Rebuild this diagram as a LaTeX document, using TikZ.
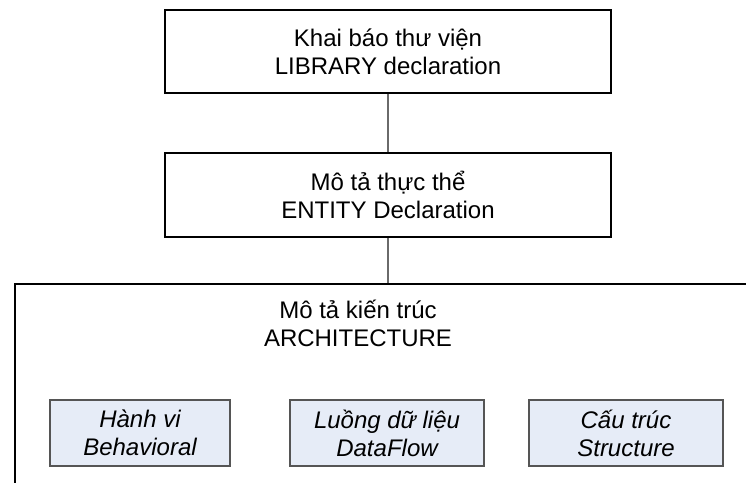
\documentclass[tikz,border=0pt]{standalone}
\usepackage{fontspec}
\setmainfont{Liberation Sans}
\definecolor{boxfill}{HTML}{E6ECF7}
\definecolor{boxline}{HTML}{555555}
\definecolor{linkline}{HTML}{6A6A6A}
\begin{document}
\begin{tikzpicture}[x=1pt,y=-1pt,
  every node/.style={font=\fontsize{24}{28}\selectfont, align=center, inner sep=0pt},
  mainbox/.style={draw=black, line width=2pt, fill=white},
  subbox/.style={draw=boxline, line width=1.5pt, fill=boxfill,
    minimum height=66pt, font=\fontsize{24}{28}\selectfont\itshape},
  link/.style={draw=linkline, line width=1.5pt}]
\useasboundingbox (0,0) rectangle (746,482);
\clip (0,0) rectangle (746,482);
% outer architecture frame (runs past the right and bottom edges)
\node[mainbox, minimum width=748pt, minimum height=230pt, anchor=north west] (arch) at (14,283) {};
\node (archtitle) at (358,323) {Mô tả kiến trúc\\ARCHITECTURE};
% library and entity boxes
\node[mainbox, minimum width=446pt, minimum height=83pt] (lib) at (388,51.5) {Khai báo thư viện\\LIBRARY declaration};
\node[mainbox, minimum width=446pt, minimum height=84pt] (ent) at (388,195) {Mô tả thực thể\\ENTITY Declaration};
% connectors
\path[link] (lib.south) -- (ent.north);
\path[link] (ent.south) -- (ent.south |- arch.north);
% architecture styles
\node[subbox, minimum width=180pt] (beh) at (140,433) {Hành vi\\Behavioral};
\node[subbox, minimum width=194pt] (flow) at (387,433) {Luồng dữ liệu\\DataFlow};
\node[subbox, minimum width=194pt] (struct) at (626,433) {Cấu trúc\\Structure};
\end{tikzpicture}
\end{document}
